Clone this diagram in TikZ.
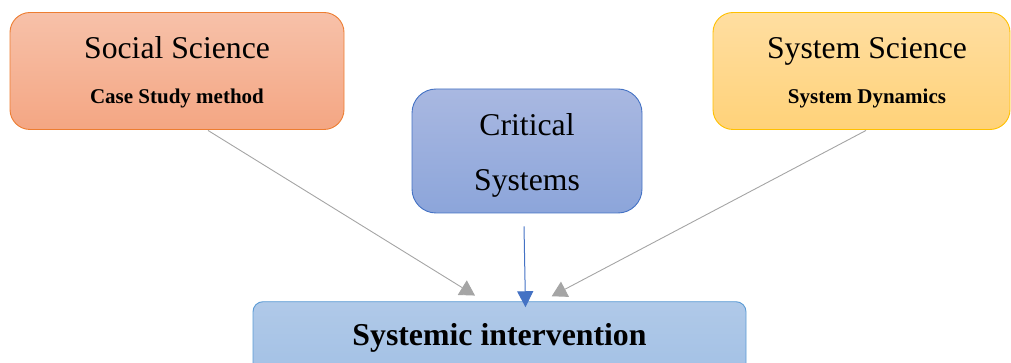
\documentclass[tikz,border=0pt]{standalone}
\usepackage{fontspec}
\setmainfont{Liberation Serif}
\usetikzlibrary{arrows.meta,calc}

\definecolor{socTop}{HTML}{F7C1A9}
\definecolor{socBot}{HTML}{F4A683}
\definecolor{socLine}{HTML}{ED7D31}
\definecolor{critTop}{HTML}{A9B8E1}
\definecolor{critBot}{HTML}{8CA5DA}
\definecolor{critLine}{HTML}{4472C4}
\definecolor{sysTop}{HTML}{FFDEA1}
\definecolor{sysBot}{HTML}{FFD279}
\definecolor{sysLine}{HTML}{FFC000}
\definecolor{siTop}{HTML}{B0C9E8}
\definecolor{siBot}{HTML}{9BBCE4}
\definecolor{siLine}{HTML}{5B9BD5}
\definecolor{arrGray}{HTML}{A5A5A5}

\tikzset{
  box/.style={rectangle, draw, line width=0.9pt, inner sep=0pt},
  bigtext/.style={font=\fontsize{31.7}{38}\selectfont, anchor=base, inner sep=0pt},
  smalltext/.style={font=\fontsize{21}{25}\selectfont\bfseries, anchor=base, inner sep=0pt},
  bigbold/.style={font=\fontsize{31.8}{38}\selectfont\bfseries, anchor=base, inner sep=0pt},
  grayarr/.style={draw=arrGray, line width=0.9pt, -{Triangle[length=15pt,width=17pt]}},
  bluearr/.style={draw=critLine, line width=1pt, -{Triangle[length=16pt,width=16pt]}}
}

\begin{document}
\begin{tikzpicture}[x=1pt,y=-1pt]
  \useasboundingbox (0,0) rectangle (1011,363);
  \clip (0,0) rectangle (1011,363);

  % source boxes
  \node[box, rounded corners=20pt, draw=socLine, top color=socTop, bottom color=socBot,
        minimum width=334pt, minimum height=117pt] (soc) at (177,71) {};
  \node[box, rounded corners=24pt, draw=critLine, top color=critTop, bottom color=critBot,
        minimum width=230pt, minimum height=124pt] (crit) at (527,151) {};
  \node[box, rounded corners=20pt, draw=sysLine, top color=sysTop, bottom color=sysBot,
        minimum width=297pt, minimum height=117pt] (sys) at (861.5,71) {};
  % target box
  \node[box, rounded corners=10pt, draw=siLine, top color=siTop, bottom color=siBot,
        minimum width=493pt, minimum height=120pt] (si) at (499.5,361.7) {};

  % labels
  \node[bigtext] (socT) at (177,59) {Social Science};
  \node[smalltext] (socS) at (177,104) {Case Study method};
  \node[bigtext] (critA) at (527,136) {Critical};
  \node[bigtext] (critB) at (527,191) {Systems};
  \node[bigtext] (sysT) at (867,59) {System Science};
  \node[smalltext] (sysS) at (867,104) {System Dynamics};
  \node[bigbold] (siT) at (499.5,345) {Systemic intervention};

  % connectors
  \draw[grayarr] ([xshift=31pt,yshift=-0.5pt]soc.south) -- ([xshift=-24.5pt,yshift=5.7pt]si.north);
  \draw[bluearr] ([xshift=-3pt,yshift=-13pt]crit.south) -- ([xshift=26pt,yshift=-6pt]si.north);
  \draw[grayarr] ([xshift=4.5pt,yshift=-0.5pt]sys.south) -- ([xshift=52.2pt,yshift=5pt]si.north);
\end{tikzpicture}
\end{document}
